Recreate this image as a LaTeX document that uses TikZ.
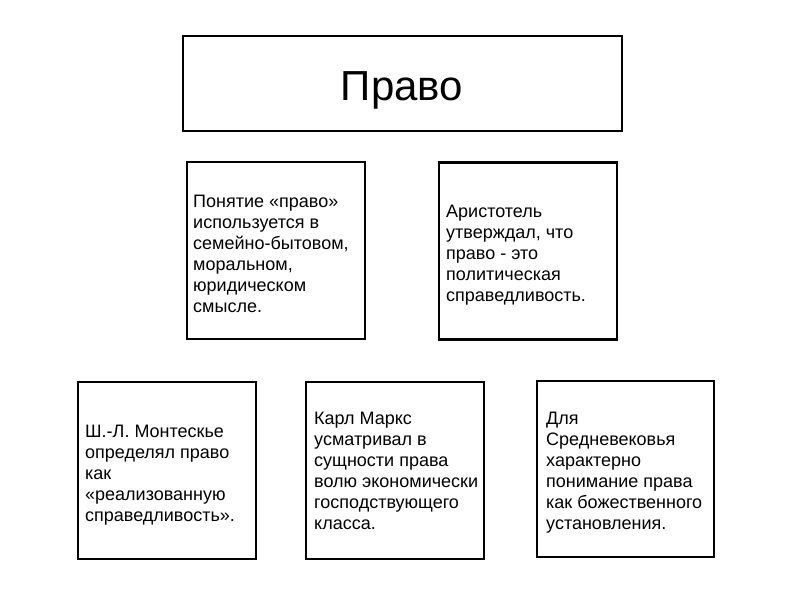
\documentclass[tikz,border=0pt]{standalone}
\usepackage{fontspec}
\setmainfont{Liberation Sans}
\begin{document}
\begin{tikzpicture}[x=1pt,y=-1pt,
  box/.style={draw=black, line width=2.3pt, rectangle, inner sep=0pt},
  txt/.style={anchor=base west, align=left, inner sep=0pt, font=\fontsize{18}{21}\selectfont},
  title/.style={anchor=base, inner sep=0pt, font=\fontsize{42}{48}\selectfont}]
\useasboundingbox (0,0) rectangle (800,600);
\node[box, minimum width=439pt, minimum height=95pt] (top) at (402.5,83.5) {};
\node[title] (toptext) at (402,100) {Право};
\node[box, minimum width=178pt, minimum height=177pt] (b1) at (276,250.5) {};
\node[box, minimum width=178pt, minimum height=177pt] (b2) at (528,251) {};
\node[box, minimum width=178pt, minimum height=177pt] (b3) at (167,470.5) {};
\node[box, minimum width=178pt, minimum height=177pt] (b4) at (395,470.5) {};
\node[box, minimum width=177pt, minimum height=176pt] (b5) at (625.5,469) {};
\node[txt] (t1) at (193,312) {Понятие «право»\\используется в\\семейно-бытовом,\\моральном,\\юридическом\\смысле.};
\node[txt] (t2) at (446,301) {Аристотель\\утверждал, что\\право - это\\политическая\\справедливость.};
\node[txt] (t3) at (85,521) {Ш.-Л. Монтескье\\определял право\\как\\«реализованную\\справедливость».};
\node[txt] (t4) at (314,529) {Карл Маркс\\усматривал в\\сущности права\\волю экономически\\господствующего\\класса.};
\node[txt] (t5) at (546,529) {Для\\Средневековья\\характерно\\понимание права\\как божественного\\установления.};
\end{tikzpicture}
\end{document}
